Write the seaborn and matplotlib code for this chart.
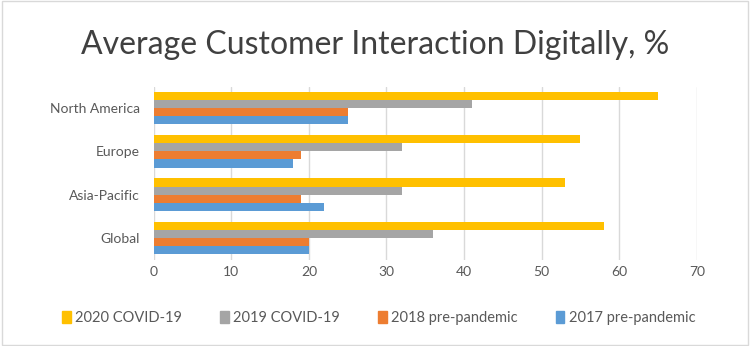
import pandas as pd
import matplotlib.pyplot as plt
import seaborn as sns

regions = ["North America", "Europe", "Asia-Pacific", "Global"]
series = ["2020 COVID-19", "2019 COVID-19", "2018 pre-pandemic", "2017 pre-pandemic"]
vals_2020 = [65, 55, 53, 58]
vals_2019 = [41, 32, 32, 36]
vals_2018 = [25, 19, 19, 20]
vals_2017 = [25, 18, 22, 20]
colors = ["#FFC000", "#A5A5A5", "#ED7D31", "#5B9BD5"]

df = pd.DataFrame({
    "region": regions * 4,
    "series": [s for s in series for _ in regions],
    "value": vals_2020 + vals_2019 + vals_2018 + vals_2017,
})

sns.set_style("white")
plt.rcParams["font.family"] = ["Lato", "DejaVu Sans"]

fig = plt.figure(figsize=(7.5, 3.46), dpi=100)
ax = fig.add_axes([0.205, 0.25, 0.724, 0.50])

sns.barplot(data=df, x="value", y="region", hue="series", order=regions,
            hue_order=series, palette=colors, orient="h", width=0.75,
            saturation=1, edgecolor="none", ax=ax)

ax.set_xlim(0, 70)
ax.set_xticks(range(0, 71, 10))
ax.xaxis.grid(True, color="#D9D9D9", linewidth=1)
ax.set_axisbelow(True)
sns.despine(ax=ax, left=True, bottom=True)
ax.set_xlabel("")
ax.set_ylabel("")
ax.tick_params(axis="both", length=0, labelsize=10, labelcolor="#595959")
ax.tick_params(axis="x", pad=5)
ax.tick_params(axis="y", pad=10)

ax.get_legend().remove()
handles = [plt.Rectangle((0, 0), 1, 1, color=c) for c in colors]
fig.legend(handles, series, loc="center", bbox_to_anchor=(0.505, 0.08), ncol=4,
           frameon=False, fontsize=10.5, handlelength=0.6, handleheight=0.9,
           columnspacing=2.6, handletextpad=0.3, labelcolor="#595959")

fig.text(0.5, 0.87, "Average Customer Interaction Digitally, %", ha="center",
         va="center", fontsize=23, color="#404040")

fig.patches.append(plt.Rectangle((0.002, 0.003), 0.995, 0.994, fill=False,
                                 edgecolor="#D9D9D9", linewidth=1,
                                 transform=fig.transFigure))

plt.savefig("out.png", dpi=100)
